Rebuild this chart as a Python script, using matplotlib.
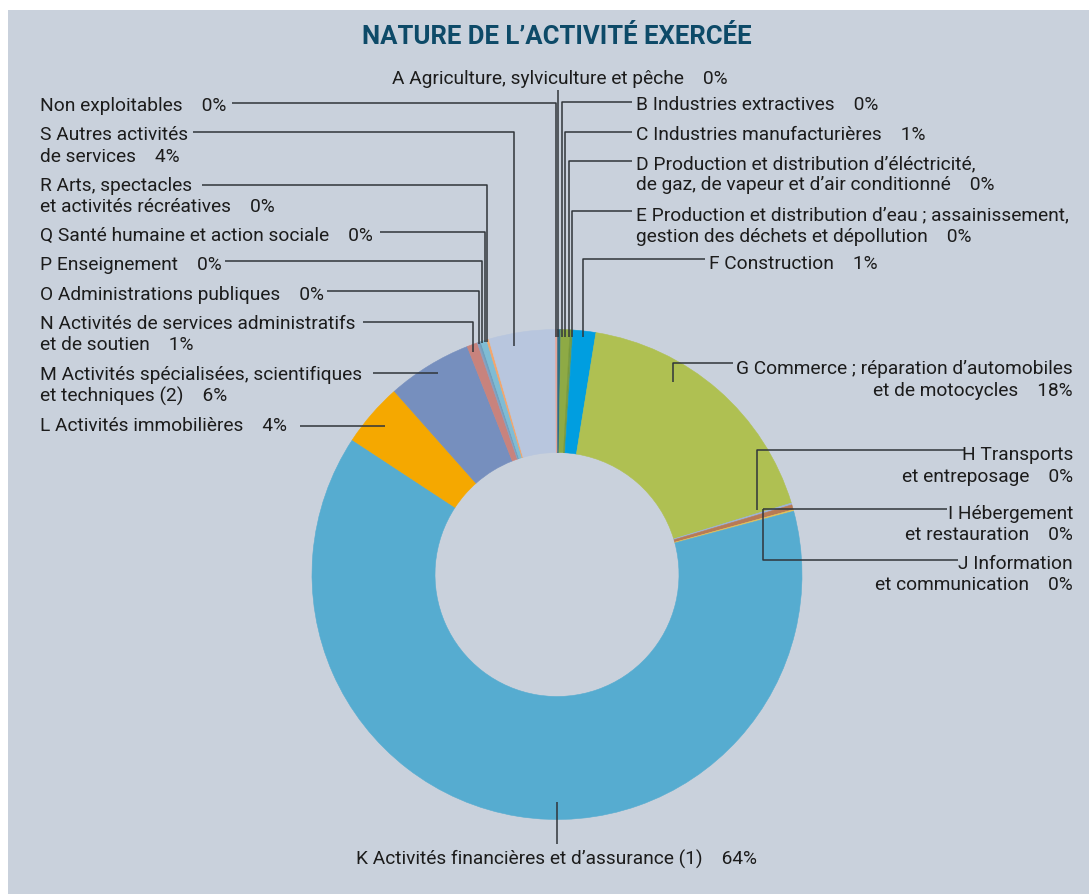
import matplotlib
matplotlib.use('Agg')
import matplotlib.pyplot as plt
from matplotlib.patches import Rectangle

# ---------------- data ----------------
codes = ['A', 'B', 'C', 'D', 'E', 'F', 'G', 'H', 'I', 'J',
         'K', 'L', 'M', 'N', 'O', 'P', 'Q', 'R', 'S', 'NE']
names = [
    "A Agriculture, sylviculture et pêche",
    "B Industries extractives",
    "C Industries manufacturières",
    "D Production et distribution d\u2019éléctricité,\nde gaz, de vapeur et d\u2019air conditionné",
    "E Production et distribution d\u2019eau ; assainissement,\ngestion des déchets et dépollution",
    "F Construction",
    "G Commerce ; réparation d\u2019automobiles\net de motocycles",
    "H Transports\net entreposage",
    "I Hébergement\net restauration",
    "J Information\net communication",
    "K Activités financières et d\u2019assurance (1)",
    "L Activités immobilières",
    "M Activités spécialisées, scientifiques\net techniques (2)",
    "N Activités de services administratifs\net de soutien",
    "O Administrations publiques",
    "P Enseignement",
    "Q Santé humaine et action sociale",
    "R Arts, spectacles\net activités récréatives",
    "S Autres activités\nde services",
    "Non exploitables",
]
pct_labels = ['0%', '0%', '1%', '0%', '0%', '1%', '18%', '0%', '0%', '0%',
              '64%', '4%', '6%', '1%', '0%', '0%', '0%', '0%', '4%', '0%']
# estimated shares (%) read from the ring angles
values = [0.05, 0.2, 0.6, 0.1, 0.1, 1.5, 17.8, 0.12, 0.33, 0.1,
          63.6, 4.2, 5.6, 0.7, 0.12, 0.12, 0.4, 0.15, 4.4, 0.1]
title = "NATURE DE L\u2019ACTIVITÉ EXERCÉE"

# ---------------- styles / layout ----------------
colors = ['#1c5f80', '#2a6f86', '#8eaa45', '#7a9a3a', '#6c9b50', '#009ee0',
          '#afc052', '#9db2d8', '#b87a55', '#e2c35a',
          '#56acd0', '#f5a800', '#768fbe', '#c8837d', '#8aa0c0', '#6f9fbd',
          '#7fbcd4', '#f5a66b', '#b8c6de', '#e4a59a']
BG = '#c9d1dc'
TXT = '#1c1c1c'
LEAD = '#30353a'
W, H = 1089, 895
CX, CY, R, RW = 557, 575.5, 245, 123

# label anchor (x, y-centre of first line in pixels from top, ha)
label_pos = {
    'A': (560, 77, 'center'), 'B': (636, 103, 'left'), 'C': (636, 133, 'left'),
    'D': (636, 162, 'left'), 'E': (636, 213, 'left'), 'F': (709, 262, 'left'),
    'G': (1073, 367, 'right'), 'H': (1073, 453, 'right'), 'I': (1073, 512, 'right'),
    'J': (1073, 562, 'right'), 'K': (557, 858, 'center'), 'L': (40, 424, 'left'),
    'M': (40, 373, 'left'), 'N': (40, 322, 'left'), 'O': (40, 293, 'left'),
    'P': (40, 263, 'left'), 'Q': (40, 234, 'left'), 'R': (40, 184, 'left'),
    'S': (40, 133, 'left'), 'NE': (40, 104, 'left'),
}
# leader polylines (pixels, y from top)
leaders = {
    'A': [(558, 91), (558, 338)],
    'B': [(632, 103), (562, 103), (562, 338)],
    'C': [(632, 133), (565, 133), (565, 338)],
    'D': [(632, 162), (568.5, 162), (568.5, 338)],
    'E': [(632, 212), (572, 212), (572, 338)],
    'F': [(705, 260), (582.5, 260), (582.5, 338)],
    'G': [(733, 364), (673, 364), (673, 383)],
    'H': [(965, 451), (757, 451), (757, 511)],
    'I': [(947, 510), (763, 510)],
    'J': [(958, 561), (763, 561), (763, 510)],
    'K': [(557, 803), (557, 845)],
    'L': [(300, 427), (385, 427)],
    'M': [(373, 374), (438, 374)],
    'N': [(363, 323), (473, 323), (473, 353)],
    'O': [(327, 292), (479, 292), (479, 345)],
    'P': [(225, 262), (482, 262), (482, 344)],
    'Q': [(380, 233), (485, 233), (485, 343)],
    'R': [(202, 186), (487, 186), (487, 343)],
    'S': [(193, 133), (514, 133), (514, 347)],
    'NE': [(232, 104), (556, 104), (556, 338)],
}
LINE_H = 21.5
FONT = ['Roboto', 'DejaVu Sans']
FS = 13.75
GAP = '    '

fig = plt.figure(figsize=(W / 100, H / 100), dpi=100, facecolor='white')
ax = fig.add_axes([0, 0, 1, 1])
ax.add_patch(Rectangle((8, 0), W - 8, H - 11, facecolor=BG, edgecolor='none', zorder=0))

wedges, _ = ax.pie(values, colors=colors, startangle=90, counterclock=False,
                   center=(CX, H - CY), radius=R,
                   wedgeprops=dict(width=RW, linewidth=0.4, zorder=1))
for w in wedges:
    w.set_edgecolor(w.get_facecolor())

ax.set_xlim(0, W)
ax.set_ylim(0, H)
ax.set_aspect('auto')
ax.axis('off')

for code, name, pct in zip(codes, names, pct_labels):
    pts = leaders[code]
    ax.plot([p[0] for p in pts], [H - p[1] for p in pts], color=LEAD,
            lw=1.1, solid_capstyle='butt', zorder=3)
    x, y0, ha = label_pos[code]
    lines = name.split('\n')
    lines[-1] = lines[-1] + GAP + pct
    for i, ln in enumerate(lines):
        yb = y0 + i * LINE_H + 7
        ax.text(x, H - yb, ln, ha=ha, va='baseline', fontsize=FS,
                family=FONT, color=TXT, zorder=4)

ax.text(557, H - 37, title, ha='center', va='center', fontsize=18.5,
        fontweight='bold', family=FONT, color='#0d4a68', zorder=4)

fig.savefig('out.png', dpi=100, facecolor='white')
